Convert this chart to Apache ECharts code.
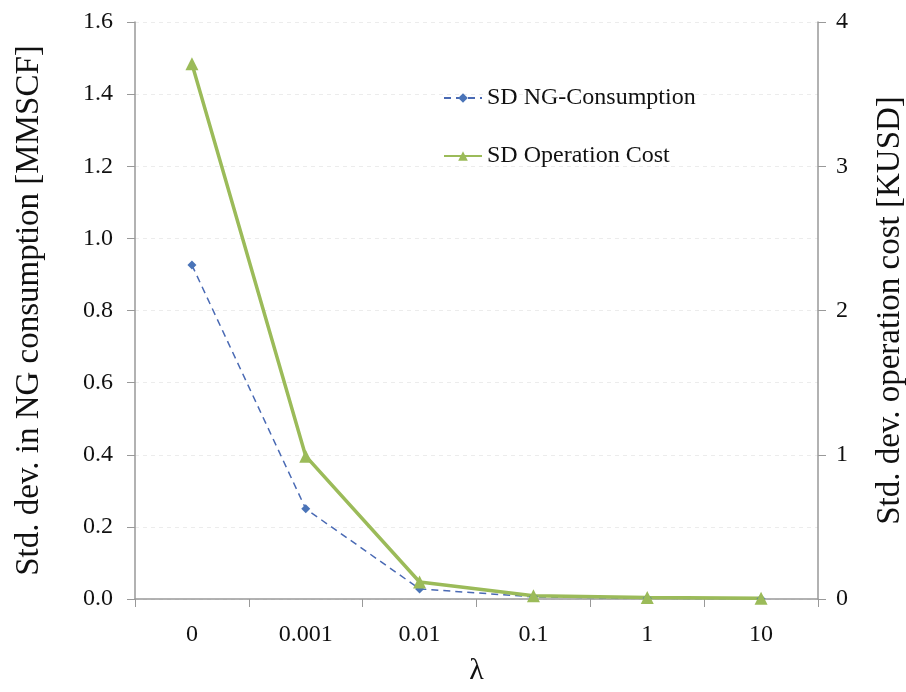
<!DOCTYPE html>
<html><head><meta charset="utf-8">
<script src="https://cdn.jsdelivr.net/npm/echarts@6/dist/echarts.min.js"></script>
<style>html,body{margin:0;padding:0;background:#fff}#c{width:906px;height:692px}</style>
</head><body><div id="c"></div>
<script>
const categories = ['0', '0.001', '0.01', '0.1', '1', '10'];
const ngConsumption = [0.926, 0.25, 0.028, 0.006, 0.002, 0.001];
const operationCost = [3.71, 0.99, 0.118, 0.022, 0.01, 0.005];
const leftTicks = [0, 0.2, 0.4, 0.6, 0.8, 1.0, 1.2, 1.4, 1.6];
const rightTicks = [0, 1, 2, 3, 4];

const font = 'Liberation Serif';
const chart = echarts.init(document.getElementById('c'));
chart.setOption({
  animation: false,
  textStyle: { fontFamily: font },
  grid: { left: 135, right: 88, top: 22, bottom: 93, outerBoundsMode: 'none', containLabel: false },
  legend: {
    orient: 'vertical', left: 438, top: 81, itemGap: 34,
    itemWidth: 38, itemHeight: 12,
    textStyle: { fontFamily: font, fontSize: 24, color: '#111' },
    data: ['SD NG-Consumption', 'SD Operation Cost']
  },
  xAxis: {
    type: 'category', data: categories, boundaryGap: true,
    name: 'λ', nameLocation: 'middle', nameGap: 57,
    nameTextStyle: { fontFamily: font, fontSize: 30, color: '#111' },
    axisLine: { lineStyle: { color: '#999', width: 1.5 } },
    axisTick: { show: true, length: 8, lineStyle: { color: '#999' } },
    axisLabel: { fontFamily: font, fontSize: 24, color: '#111', margin: 24 }
  },
  yAxis: [{
    type: 'value', min: 0, max: 1.6, interval: 0.2, position: 'left',
    name: 'Std. dev. in NG consumption [MMSCF]', nameLocation: 'middle', nameGap: 89,
    nameTextStyle: { fontFamily: font, fontSize: 33, color: '#111' },
    axisLine: { show: true, lineStyle: { color: '#999', width: 1.5 } },
    axisTick: { show: true, length: 8, lineStyle: { color: '#999' } },
    axisLabel: { fontFamily: font, fontSize: 24, color: '#111', margin: 22,
      formatter: v => v.toFixed(1) },
    splitLine: { show: true, lineStyle: { color: '#ececec', type: [4, 4] } }
  }, {
    type: 'value', min: 0, max: 4, interval: 1, position: 'right',
    name: 'Std. dev. operation cost [KUSD]', nameLocation: 'middle', nameGap: 56,
    nameRotate: 90,
    nameTextStyle: { fontFamily: font, fontSize: 33, color: '#111' },
    axisLine: { show: true, lineStyle: { color: '#999', width: 1.5 } },
    axisTick: { show: true, length: 8, lineStyle: { color: '#999' } },
    axisLabel: { fontFamily: font, fontSize: 24, color: '#111', margin: 18 },
    splitLine: { show: false }
  }],
  series: [{
    name: 'SD NG-Consumption', type: 'line', yAxisIndex: 0, data: ngConsumption,
    symbol: 'diamond', symbolSize: 9,
    lineStyle: { color: '#4a6ab4', width: 1.5, type: [7, 5] },
    itemStyle: { color: '#4a74b8' }
  }, {
    name: 'SD Operation Cost', type: 'line', yAxisIndex: 1, data: operationCost,
    symbol: 'triangle', symbolSize: 13,
    lineStyle: { color: '#9bbb59', width: 3.5 },
    itemStyle: { color: '#9bbb59' }
  }]
});
</script></body></html>
